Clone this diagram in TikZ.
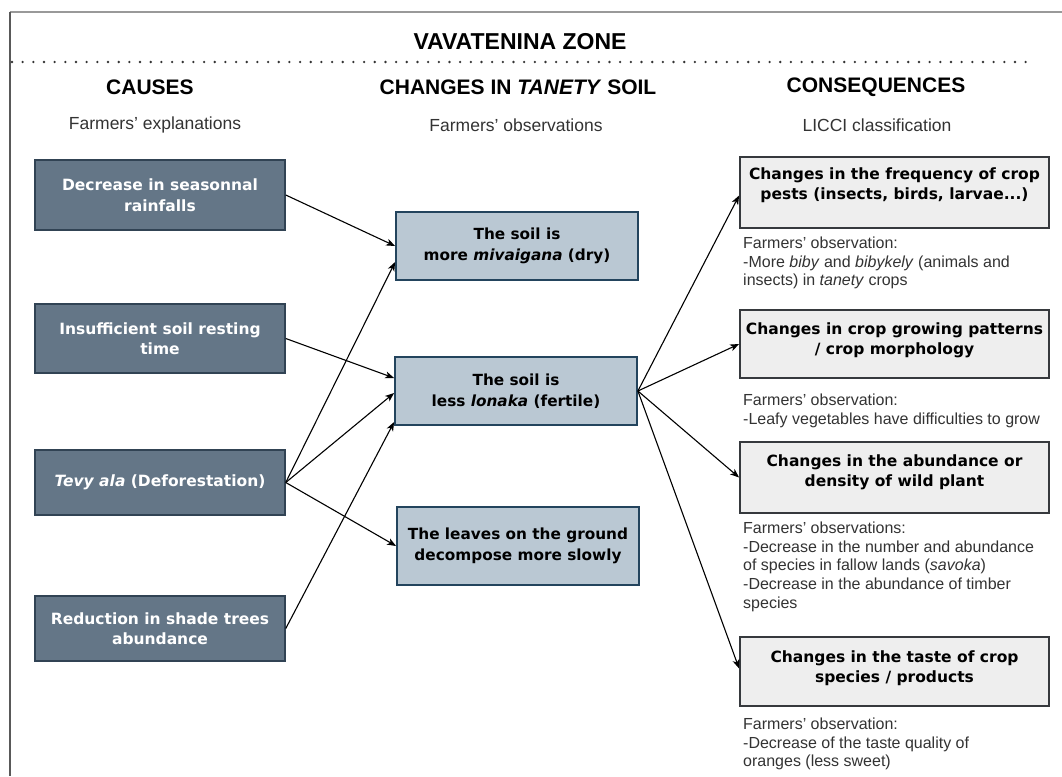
\documentclass[tikz,border=0pt]{standalone}
\usepackage{fontspec}
\setmainfont{Liberation Sans}
\newfontfamily\dvs{DejaVu Sans}
\usetikzlibrary{arrows.meta}
\definecolor{slatefill}{HTML}{647687}
\definecolor{slateline}{HTML}{314354}
\definecolor{bluefill}{HTML}{BAC8D3}
\definecolor{blueline}{HTML}{23445D}
\definecolor{grayfill}{HTML}{EEEEEE}
\definecolor{grayline}{HTML}{36393D}
\definecolor{notecol}{HTML}{333333}
\begin{document}
\begin{tikzpicture}[x=1pt,y=-1pt,
  causebox/.style={draw=slateline, fill=slatefill, line width=1.5pt, inner sep=0pt,
    text=white, font=\dvs\bfseries\fontsize{15.5}{20.5}\selectfont, align=center,
    minimum width=250pt},
  soilbox/.style={draw=blueline, fill=bluefill, line width=1.8pt, inner sep=0pt,
    text=black, font=\dvs\bfseries\fontsize{15.3}{21}\selectfont, align=center,
    minimum width=242pt},
  consbox/.style={draw=grayline, fill=grayfill, line width=1.8pt, inner sep=0pt,
    minimum width=309pt},
  constext/.style={inner sep=0pt, text=black, font=\dvs\bfseries\fontsize{15.5}{20}\selectfont, align=center},
  notetext/.style={inner sep=0pt, anchor=north west, text=notecol, align=left,
    font=\fontsize{16}{18.8}\selectfont},
  headtext/.style={inner sep=0pt, font=\bfseries\fontsize{21}{25}\selectfont},
  subtext/.style={inner sep=0pt, text=notecol, font=\fontsize{17.5}{21}\selectfont},
  arr/.style={draw=black, line width=1.1pt, -{Stealth[length=9pt,width=7pt,inset=2.5pt]}}
]
\useasboundingbox (0,0) rectangle (1062,776);
\fill[white] (0,0) rectangle (1062,776);
% frame
\coordinate (ftl) at (9.5,12);
\coordinate (ftr) at (1062,12);
\coordinate (fbl) at (9.5,776);
\draw[color=black!40, line width=1.5pt] (ftl) -- (ftr);
\draw[color=black!65, line width=2pt] (ftl) -- (fbl);
\coordinate (dl) at (12,62);
\coordinate (dr) at (1036,62);
\draw[color=black!80, line width=2.6pt, line cap=round, dash pattern=on 0pt off 10.67pt] (dl) -- (dr);

% titles
\node[inner sep=0pt, font=\bfseries\fontsize{23}{27}\selectfont] (title) at (520,42) {VAVATENINA ZONE};
\node[headtext] (h1) at (150,87) {CAUSES};
\node[headtext] (h2) at (518,87) {CHANGES IN \textit{TANETY} SOIL};
\node[headtext] (h3) at (876,87) {CONSEQUENCES};
\node[subtext] (s1) at (155,125) {Farmers' explanations};
\node[subtext] (s2) at (516,125) {Farmers' observations};
\node[subtext] (s3) at (877,125) {LICCI classification};

% causes
\node[causebox, minimum height=70pt] (c1) at (160,195) {Decrease in seasonnal\\rainfalls};
\node[causebox, minimum height=69pt] (c2) at (160,338.5) {Insufficient soil resting\\time};
\node[causebox, minimum height=65pt] (c3) at (160,482.5) {\textit{Tevy ala} (Deforestation)};
\node[causebox, minimum height=65pt] (c4) at (160,628.5) {Reduction in shade trees\\abundance};

% soil changes
\node[soilbox, minimum height=68pt] (m1) at (517,246) {The soil is\\more \textit{mivaigana} (dry)};
\node[soilbox, minimum height=68pt] (m2) at (516,391) {The soil is\\less \textit{lonaka} (fertile)};
\node[soilbox, minimum height=78pt] (m3) at (518,546) {The leaves on the ground\\decompose more slowly};

% consequences
\node[consbox, minimum height=71pt] (r1) at (894.5,192.5) {};
\node[constext] (r1t) at ([yshift=7pt]r1.center) {Changes in the frequency of crop\\pests (insects, birds, larvae...)};
\node[consbox, minimum height=68pt] (r2) at (894.5,344) {};
\node[constext] (r2t) at ([yshift=4pt]r2.center) {Changes in crop growing patterns\\/ crop morphology};
\node[consbox, minimum height=71pt] (r3) at (894.5,477.5) {};
\node[constext] (r3t) at ([yshift=5pt]r3.center) {Changes in the abundance or\\density of wild plant};
\node[consbox, minimum height=69pt] (r4) at (894.5,671.5) {};
\node[constext] (r4t) at ([yshift=3.5pt]r4.center) {Changes in the taste of crop\\species / products};

% notes
\node[notetext] (n1) at (743,236.5) {Farmers' observation:\\-More \textit{biby} and \textit{bibykely} (animals and\\insects) in \textit{tanety} crops};
\node[notetext] (n2) at (743,393.5) {Farmers' observation:\\-Leafy vegetables have difficulties to grow};
\node[notetext] (n3) at (743,521.5) {Farmers' observations:\\-Decrease in the number and abundance\\of species in fallow lands (\textit{savoka})\\-Decrease in the abundance of timber\\species};
\node[notetext] (n4) at (743,717.5) {Farmers' observation:\\-Decrease of the taste quality of\\oranges (less sweet)};

% connectors
\draw[arr] (c1.east) -- (m1.west);
\draw[arr] (c2.east) -- ([yshift=13pt]m2.west);
\draw[arr] (c3.east) -- ([yshift=-16pt]m1.west);
\draw[arr] (c3.east) -- ([yshift=-2pt]m2.west);
\draw[arr] (c3.east) -- (m3.west);
\draw[arr] (c4.east) -- ([yshift=-31pt]m2.west);
\draw[arr] (m2.east) -- ([yshift=-3pt]r1.west);
\draw[arr] (m2.east) -- (r2.west);
\draw[arr] (m2.east) -- (r3.west);
\draw[arr] (m2.east) -- ([yshift=3pt]r4.west);
\end{tikzpicture}
\end{document}
